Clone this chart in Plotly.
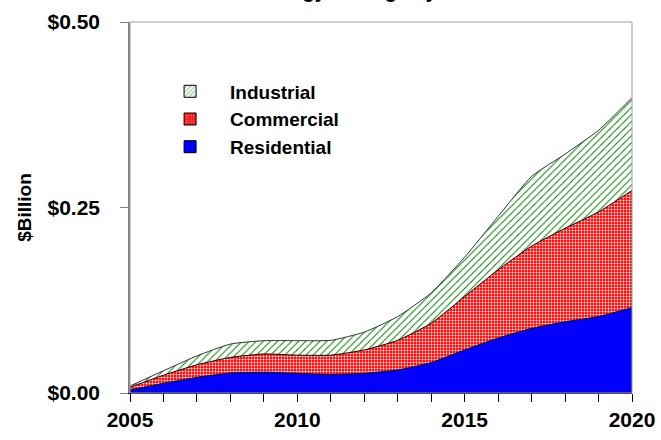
import plotly.graph_objects as go

years = list(range(2005, 2021))
residential = [0.004, 0.013, 0.021, 0.027, 0.028, 0.0265, 0.025, 0.0265, 0.031, 0.041, 0.058, 0.074, 0.087, 0.096, 0.103, 0.115]
commercial = [0.0037, 0.011, 0.017, 0.021, 0.0246, 0.0245, 0.026, 0.0315, 0.040, 0.053, 0.072, 0.092, 0.111, 0.126, 0.141, 0.158]
industrial = [0.0017, 0.006, 0.012, 0.018, 0.0179, 0.0195, 0.020, 0.024, 0.032, 0.041, 0.053, 0.072, 0.094, 0.100, 0.110, 0.125]
y_ticks = [0, 0.25, 0.5]
y_tick_labels = ["$0.00", "$0.25", "$0.50"]
x_ticks = [2005, 2010, 2015, 2020]
title_text = "Energy Savings by Sector"

FONT = "Liberation Sans, Arial, sans-serif"

com_pattern = dict(shape=".", fgcolor="#FFFFFF", bgcolor="#FF0000", size=3, solidity=0.35, fillmode="replace")
ind_pattern = dict(shape="/", fgcolor="#008000", bgcolor="#FFFFFF", size=5, solidity=0.2, fillmode="replace")

fig = go.Figure()
line = dict(color="black", width=1, shape="spline", smoothing=0.5)
fig.add_trace(go.Scatter(x=years, y=residential, stackgroup="one", mode="lines", line=line,
                         fillcolor="#0000FF", name="Residential", showlegend=False))
fig.add_trace(go.Scatter(x=years, y=commercial, stackgroup="one", mode="lines", line=line,
                         fillcolor="#FF0000", fillpattern=com_pattern, name="Commercial", showlegend=False))
fig.add_trace(go.Scatter(x=years, y=industrial, stackgroup="one", mode="lines",
                         line=dict(color="#333333", width=1, shape="spline", smoothing=0.5),
                         fillcolor="#FFFFFF", fillpattern=ind_pattern, name="Industrial", showlegend=False))

# legend entries (square swatches)
fig.add_trace(go.Bar(x=[None], y=[None], name="Industrial",
                     marker=dict(color="#FFFFFF", pattern=dict(shape="/", fgcolor="#008000", bgcolor="#FFFFFF", size=4, solidity=0.3),
                                 line=dict(color="black", width=1))))
fig.add_trace(go.Bar(x=[None], y=[None], name="Commercial",
                     marker=dict(color="#FF0000", pattern=dict(shape=".", fgcolor="#FFFFFF", bgcolor="#FF0000", size=3, solidity=0.35),
                                 line=dict(color="black", width=1))))
fig.add_trace(go.Bar(x=[None], y=[None], name="Residential",
                     marker=dict(color="#0000FF", line=dict(color="black", width=1))))

fig.update_layout(
    width=661, height=440,
    margin=dict(l=130, r=29, t=22, b=47),
    paper_bgcolor="white", plot_bgcolor="white",
    font=dict(family=FONT, color="black"),
    showlegend=True,
    legend=dict(x=0.04, y=0.864, xanchor="left", yanchor="top", bgcolor="rgba(0,0,0,0)",
                font=dict(size=19, weight="bold", family=FONT), itemwidth=70, tracegroupgap=0,
                traceorder="normal"),
    xaxis=dict(range=[2005, 2020], tickvals=x_ticks, ticks="outside", ticklen=8, automargin=False,
               tickcolor="black", showgrid=False, zeroline=False, showline=True, linecolor="black",
               linewidth=1, tickfont=dict(size=21, weight="bold", family=FONT),
               minor=dict(dtick=1, ticks="outside", ticklen=8, tickcolor="black", showgrid=False)),
    yaxis=dict(range=[0, 0.5], tickvals=y_ticks, ticktext=y_tick_labels, ticks="outside", ticklen=8,
               automargin=False, ticklabelstandoff=16,
               tickcolor="#808080", showgrid=False, zeroline=False, showline=True, linecolor="#808080",
               linewidth=1.5, tickfont=dict(size=21, weight="bold", family=FONT),
               title=dict(text="$Billion", font=dict(size=19, weight="bold", family=FONT), standoff=11)),
    shapes=[dict(type="rect", xref="paper", yref="paper", x0=0, x1=1, y0=0, y1=1,
                 line=dict(color="#A0A0A0", width=1), layer="above")],
    annotations=[dict(text=title_text, xref="paper", yref="paper", x=0.5, y=1, xanchor="center",
                      yanchor="bottom", yshift=18, showarrow=False,
                      font=dict(size=20, weight="bold", family=FONT))],
)

fig.write_html("out.html", config={"displayModeBar": False},
               post_script="document.body.style.margin='0';document.body.style.overflow='hidden';")
